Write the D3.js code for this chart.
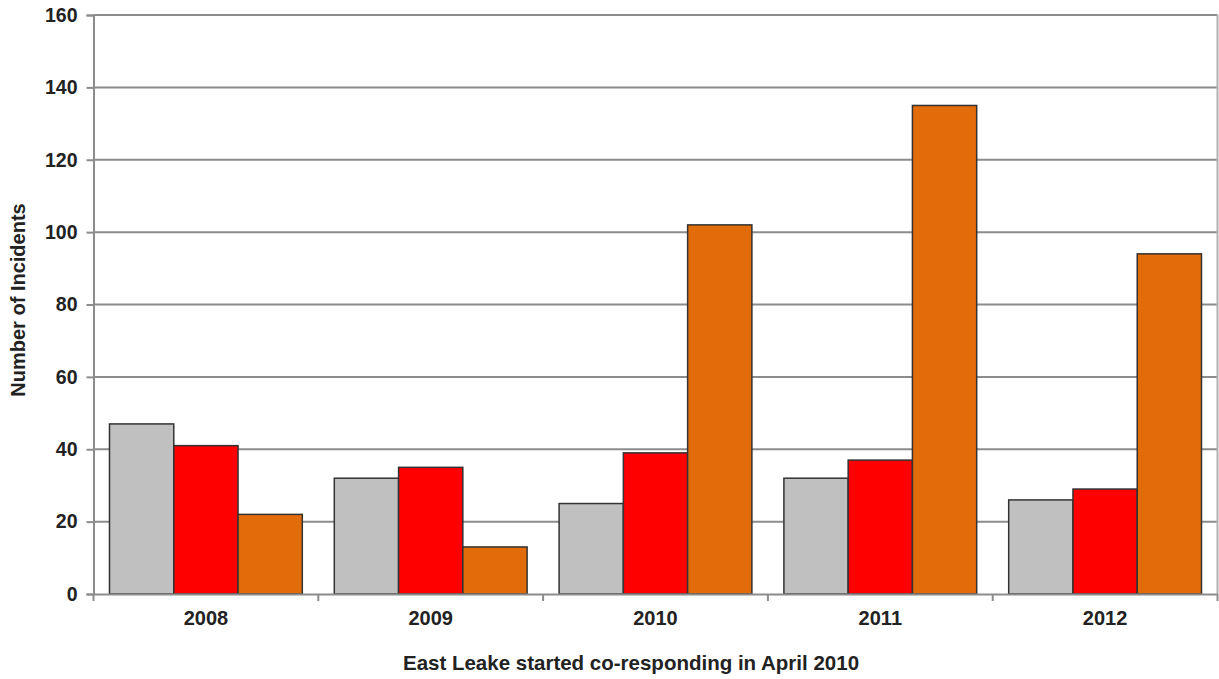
<!DOCTYPE html>
<html><head><meta charset="utf-8">
<script src="https://cdn.jsdelivr.net/npm/d3@7"></script>
<style>body{margin:0;background:#fff;} text{font-family:"Liberation Sans",Arial,sans-serif;font-weight:bold;fill:#222;}</style>
</head><body>
<svg id="c" width="1219" height="679"></svg>
<script>
const years = ["2008","2009","2010","2011","2012"];
const seriesNames = ["A","B","C"];
const seriesA = [47,32,25,32,26];
const seriesB = [41,35,39,37,29];
const seriesC = [22,13,102,135,94];
const yTicks = [0,20,40,60,80,100,120,140,160];
const colors = ["#c0c0c0","#ff0000","#e36c0a"];

const svg = d3.select("#c");
const L=93.5, R=1217.5, T=15, B=594;
const x0 = d3.scaleBand().domain(years).range([L,R]).padding(0);
const bw = x0.bandwidth();
const off = bw*16/224.8;
const x1 = d3.scaleBand().domain(seriesNames).range([off,bw-off]).padding(0);
const y = d3.scaleLinear().domain([0,160]).range([B,T]);

// grid
svg.append("g").selectAll("line").data(yTicks.filter(d=>d>0)).join("line")
  .attr("x1",L).attr("x2",R).attr("y1",d=>y(d)).attr("y2",d=>y(d))
  .attr("stroke","#8c8c8c").attr("stroke-width",2);
// right border
svg.append("line").attr("x1",R).attr("x2",R).attr("y1",T).attr("y2",B)
  .attr("stroke","#b0b0b0").attr("stroke-width",2);

// y axis
const ya = svg.append("g").attr("transform",`translate(${L},0)`)
  .call(d3.axisLeft(y).tickValues(yTicks).tickSize(7).tickPadding(9));
ya.select(".domain").attr("stroke","#8c8c8c").attr("stroke-width",2);
ya.selectAll(".tick line").attr("stroke","#8c8c8c").attr("stroke-width",2);
ya.selectAll("text").style("font-size","19.5px").style("font-family","Liberation Sans, Arial").style("font-weight","bold").attr("fill","#222");

// bars
const data = years.map((yr,i)=>({yr, vals:[seriesA[i],seriesB[i],seriesC[i]]}));
const g = svg.append("g").selectAll("g").data(data).join("g")
  .attr("transform",d=>`translate(${x0(d.yr)},0)`);
g.selectAll("rect").data(d=>d.vals.map((v,j)=>({s:seriesNames[j],v,j}))).join("rect")
  .attr("x",d=>x1(d.s)).attr("width",x1.bandwidth())
  .attr("y",d=>y(d.v)).attr("height",d=>B-y(d.v))
  .attr("fill",d=>colors[d.j]).attr("stroke","#333").attr("stroke-width",1.5);

// x axis
const xa = svg.append("g").attr("transform",`translate(0,${B})`)
  .call(d3.axisBottom(x0).tickSize(0).tickPadding(17));
xa.select(".domain").attr("stroke","#8c8c8c").attr("stroke-width",2);
xa.selectAll("text").style("font-size","20px").style("font-family","Liberation Sans, Arial").style("font-weight","bold").attr("fill","#222");
// boundary ticks
const bounds = years.map(d=>x0(d)).concat([R]);
svg.append("g").selectAll("line").data(bounds).join("line")
  .attr("x1",d=>d).attr("x2",d=>d).attr("y1",B).attr("y2",B+7)
  .attr("stroke","#8c8c8c").attr("stroke-width",2);

// titles
svg.append("text").attr("x",631).attr("y",670).attr("text-anchor","middle")
  .style("font-size","20.5px").text("East Leake started co-responding in April 2010");
svg.append("text").attr("transform","translate(25,300) rotate(-90)").attr("text-anchor","middle")
  .style("font-size","20px").text("Number of Incidents");
</script>
</body></html>
